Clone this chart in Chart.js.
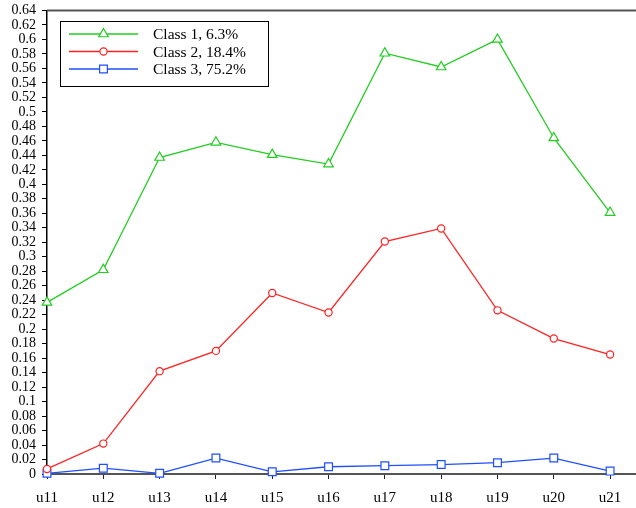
<!DOCTYPE html>
<html>
<head>
<meta charset="utf-8">
<script src="https://cdn.jsdelivr.net/npm/chart.js@4/dist/chart.umd.min.js"></script>
<style>
  html, body { margin: 0; padding: 0; background: #fff; }
  canvas { display: block; }
</style>
</head>
<body>
<canvas id="c" width="636" height="508"></canvas>
<script>
// Categories along the x axis
const categories = ['u11', 'u12', 'u13', 'u14', 'u15', 'u16', 'u17', 'u18', 'u19', 'u20', 'u21'];

// Series names shown in the legend
const seriesNames = ['Class 1, 6.3%', 'Class 2, 18.4%', 'Class 3, 75.2%'];

// Series values
const class1 = [0.237, 0.282, 0.437, 0.458, 0.441, 0.428, 0.581, 0.562, 0.600, 0.464, 0.361];
const class2 = [0.007, 0.042, 0.142, 0.170, 0.250, 0.223, 0.321, 0.339, 0.226, 0.187, 0.165];
const class3 = [0.001, 0.008, 0.001, 0.022, 0.003, 0.010, 0.0115, 0.013, 0.0156, 0.022, 0.004];

// Y axis range and step
const yMin = 0;
const yMax = 0.64;
const yStep = 0.02;

const FONT = '"Liberation Serif", "Times New Roman", serif';

function toPoints(values) {
  return values.map((v, i) => ({ x: i, y: v }));
}

function series(label, values, color, style, radius) {
  return {
    label: label,
    data: toPoints(values),
    borderColor: color,
    backgroundColor: '#fff',
    borderWidth: 1.3,
    tension: 0,
    pointStyle: style,
    pointRadius: radius,
    pointBorderWidth: 1.2,
    pointBorderColor: color,
    pointBackgroundColor: '#fff',
    clip: false
  };
}

// Top frame line and boxed legend with line + marker samples
const frameAndLegend = {
  id: 'frameAndLegend',
  afterDraw(chart) {
    const ctx = chart.ctx;
    const a = chart.chartArea;
    ctx.save();
    ctx.strokeStyle = '#555';
    ctx.lineWidth = 2;
    ctx.beginPath();
    ctx.moveTo(a.left, a.top);
    ctx.lineTo(chart.width, a.top);
    ctx.stroke();

    // legend box
    ctx.strokeStyle = '#000';
    ctx.lineWidth = 1;
    ctx.strokeRect(60.5, 21.5, 208, 65);

    const rows = [34, 51.5, 69];
    chart.data.datasets.forEach((ds, i) => {
      const y = rows[i];
      ctx.strokeStyle = ds.borderColor;
      ctx.lineWidth = 1.5;
      ctx.beginPath();
      ctx.moveTo(69, y);
      ctx.lineTo(138, y);
      ctx.stroke();
      ctx.fillStyle = '#fff';
      ctx.strokeStyle = ds.borderColor;
      ctx.lineWidth = ds.pointBorderWidth;
      Chart.helpers.drawPoint(ctx, {
        pointStyle: ds.pointStyle,
        radius: ds.pointRadius,
        rotation: 0,
        borderWidth: ds.pointBorderWidth
      }, 103.5, y);
      ctx.fillStyle = '#000';
      ctx.font = '15.5px ' + FONT;
      ctx.textAlign = 'left';
      ctx.textBaseline = 'middle';
      ctx.fillText(ds.label, 153, y + 1);
    });
    ctx.restore();
  }
};

new Chart(document.getElementById('c'), {
  type: 'line',
  data: {
    datasets: [
      series(seriesNames[0], class1, '#22cc22', 'triangle', 5.5),
      series(seriesNames[1], class2, '#ff2222', 'circle', 3.6),
      series(seriesNames[2], class3, '#1f4fff', 'rect', 5.5)
    ]
  },
  options: {
    responsive: false,
    animation: false,
    devicePixelRatio: 1,
    layout: { autoPadding: false, padding: { left: 0, right: 0, top: 10.5, bottom: 0 } },
    plugins: {
      legend: { display: false },
      tooltip: { enabled: false }
    },
    scales: {
      x: {
        type: 'linear',
        min: 0,
        max: 10.46,
        afterFit(scale) {
          scale.height = 34;
          scale.paddingLeft = 0;
          scale.paddingRight = 0;
        },
        ticks: {
          stepSize: 1,
          includeBounds: false,
          autoSkip: false,
          maxRotation: 0,
          padding: 10,
          color: '#000',
          font: { family: FONT, size: 15 },
          callback: (v) => Number.isInteger(v) ? categories[v] : ''
        },
        grid: { drawOnChartArea: false, drawTicks: true, tickLength: 5, color: '#222' },
        border: { color: '#555', width: 2 }
      },
      y: {
        min: yMin,
        max: yMax,
        afterFit(scale) {
          scale.width = 47;
          scale.paddingTop = 0;
          scale.paddingBottom = 0;
        },
        ticks: {
          stepSize: yStep,
          autoSkip: false,
          padding: 6,
          color: '#000',
          font: { family: FONT, size: 14 },
          callback: (v) => String(parseFloat(v.toFixed(2)))
        },
        grid: { drawOnChartArea: false, drawTicks: true, tickLength: 5, color: '#000' },
        border: { color: '#000', width: 1.5 }
      }
    }
  },
  plugins: [frameAndLegend]
});
</script>
</body>
</html>
